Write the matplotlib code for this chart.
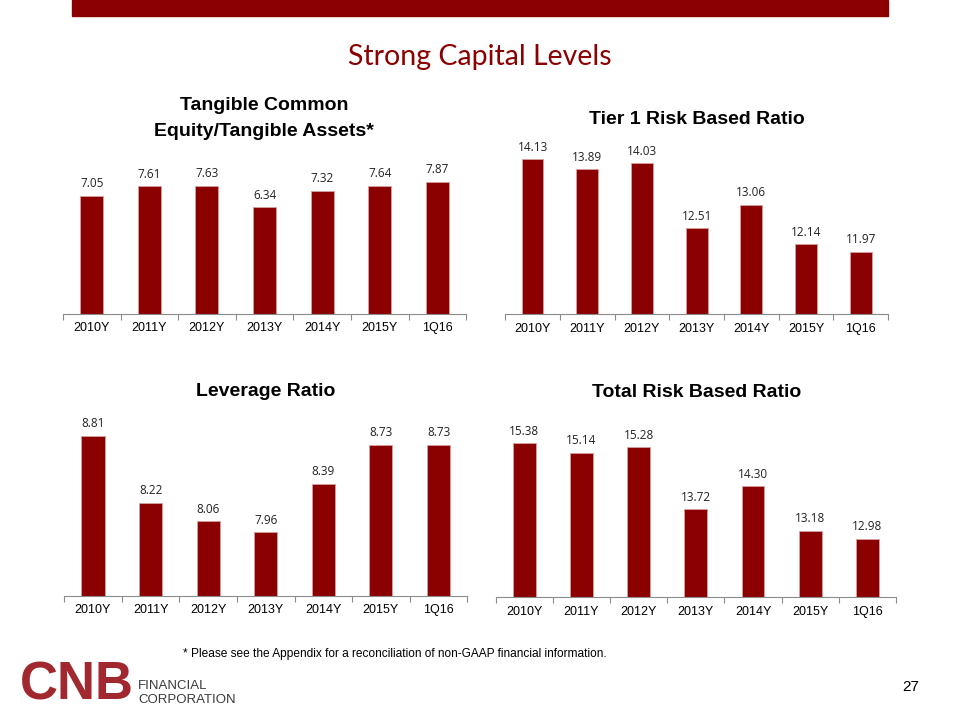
import numpy as np
import matplotlib
matplotlib.use("Agg")
import matplotlib.pyplot as plt
from matplotlib.patches import Rectangle

# data
periods = ["2010Y", "2011Y", "2012Y", "2013Y", "2014Y", "2015Y", "1Q16"]
tce_ta = [7.05, 7.61, 7.63, 6.34, 7.32, 7.64, 7.87]
tier1 = [14.13, 13.89, 14.03, 12.51, 13.06, 12.14, 11.97]
leverage = [8.81, 8.22, 8.06, 7.96, 8.39, 8.73, 8.73]
total_risk = [15.38, 15.14, 15.28, 13.72, 14.30, 13.18, 12.98]

W, H = 960, 720
BAR = "#8b0000"
EDGE = "#d9a0a0"

fig = plt.figure(figsize=(9.6, 7.2), dpi=100)
fig.patch.set_facecolor("white")


def box(left, top, right, bottom):
    # pixel box -> figure fraction
    return [left / W, 1 - bottom / H, (right - left) / W, (bottom - top) / H]


def bar_panel(pos, vals, ylim):
    ax = fig.add_axes(pos)
    x = np.arange(len(vals))
    ax.bar(x, vals, width=0.4, color=BAR, edgecolor=EDGE, linewidth=0.6,
           bottom=0, zorder=2)
    ax.set_ylim(*ylim)
    ax.set_xlim(-0.5, len(vals) - 0.5)
    for i, v in enumerate(vals):
        ax.annotate(f"{v:.2f}", (i, v), xytext=(0, 4), textcoords="offset points",
                    ha="center", va="bottom", fontsize=8.5, family="Open Sans",
                    color="#222222")
    for s in ["top", "right", "left"]:
        ax.spines[s].set_visible(False)
    ax.spines["bottom"].set_color("#8c8c8c")
    ax.spines["bottom"].set_linewidth(0.8)
    ax.set_yticks([])
    ax.set_xticks(np.arange(-0.5, len(vals), 1.0))
    ax.set_xticklabels([])
    ax.tick_params(axis="x", which="major", length=4, color="#8c8c8c", width=0.8)
    ax.set_xticks(x, minor=True)
    ax.set_xticklabels(periods, minor=True, fontsize=9, family="Liberation Sans")
    ax.tick_params(axis="x", which="minor", length=0, pad=6)
    ax.set_facecolor("none")
    return ax


bar_panel(box(62.9, 150, 466.1, 314), tce_ta, (0, 9.76))
bar_panel(box(505.2, 140, 888.2, 314.3), tier1, (10.5, 14.58))
bar_panel(box(64.2, 420, 467.3, 596), leverage, (7.4, 8.95))
bar_panel(box(495.6, 425, 896, 597.3), total_risk, (11.5, 15.84))


def ftext(x, y, s, **kw):
    fig.text(x / W, 1 - y / H, s, **kw)


title_kw = dict(ha="center", va="center", fontsize=14, fontweight="bold",
                family="Liberation Sans", color="black")
ftext(264, 106, "Tangible Common", **title_kw)
ftext(264, 131, "Equity/Tangible Assets*", **title_kw)
ftext(697, 119, "Tier 1 Risk Based Ratio", **title_kw)
ftext(266, 392, "Leverage Ratio", **title_kw)
ftext(697, 393, "Total Risk Based Ratio", **title_kw)

# header band and slide title
fig.patches.append(Rectangle((72 / W, 1 - 16 / H), (888 - 72) / W, 16 / H,
                             transform=fig.transFigure, color=BAR, zorder=0))
ftext(480, 57, "Strong Capital Levels", ha="center", va="center", fontsize=20.5,
      family="Lato", color="#8b0000")

# footnote, page number
ftext(183, 654, "* Please see the Appendix for a reconciliation of non-GAAP financial information.",
      ha="left", va="center", fontsize=8.6, family="Liberation Sans", color="black")
ftext(919, 687, "27", ha="right", va="center", fontsize=11,
      family="Liberation Sans", color="black")

# logo
ftext(20, 686, "CNB", ha="left", va="center", fontsize=38, fontweight="bold",
      family="Liberation Sans", color="#a0282e")
ftext(138, 686, "FINANCIAL", ha="left", va="center", fontsize=9.5,
      family="Liberation Sans", color="#3a3a3a")
ftext(138, 700, "CORPORATION", ha="left", va="center", fontsize=9.5,
      family="Liberation Sans", color="#3a3a3a")

fig.savefig("out.png", dpi=100, facecolor="white")
